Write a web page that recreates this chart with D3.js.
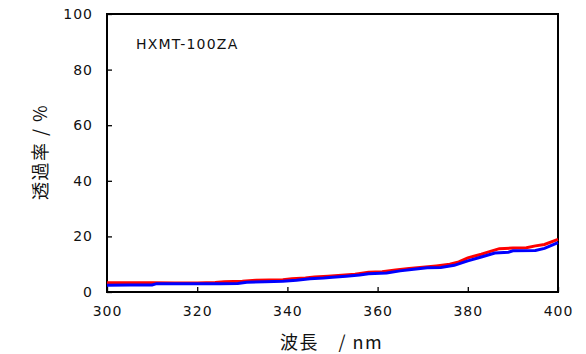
<!DOCTYPE html>
<html><head><meta charset="utf-8">
<script src="https://cdn.jsdelivr.net/npm/d3@7"></script>
<style>
body{margin:0;background:#fff;}
svg{display:block;}
</style></head>
<body>
<svg id="chart" width="586" height="354"></svg>
<script>
const xTicks = [300, 320, 340, 360, 380, 400];
const yTicks = [0, 20, 40, 60, 80, 100];
const redWavelength = [300,305,310,315,320,324,326,330,333,336,339,341,344,346,349,352,355,358,361,364,367,370,373,376,378,380,383,385,387,390,393,395,397,400];
const redValues =     [3.3,3.3,3.3,3.2,3.2,3.4,3.7,3.9,4.2,4.3,4.4,4.8,5.0,5.4,5.7,6.0,6.4,7.1,7.3,7.9,8.5,8.9,9.4,10.0,10.8,12.3,13.6,14.6,15.6,15.8,15.9,16.6,17.1,18.9];
const blueWavelength = [300,305,310,311,315,320,325,329,331,335,339,342,345,348,350,353,356,358,362,365,368,371,374,377,380,383,386,389,390,395,397,400];
const blueValues =     [2.4,2.5,2.5,3.0,3.0,3.0,3.0,3.1,3.5,3.7,3.9,4.2,4.8,5.0,5.3,5.7,6.1,6.6,6.8,7.6,8.2,8.7,8.8,9.6,11.2,12.6,14.0,14.3,14.8,14.9,15.7,17.8];
const sampleLabel = "HXMT-100ZA";
const xTitle = "波長　/ nm";
const yTitle = "透過率 / %";

const svg = d3.select("#chart");
const m = {left:107, top:14, right:28, bottom:62};
const W = 586, H = 354;
const x = d3.scaleLinear().domain([300,400]).range([m.left, W - m.right]);
const y = d3.scaleLinear().domain([0,100]).range([H - m.bottom, m.top]);

const numFont = "DejaVu Sans";
svg.append("rect").attr("x", m.left).attr("y", m.top)
  .attr("width", W - m.left - m.right).attr("height", H - m.top - m.bottom)
  .attr("fill", "none").attr("stroke", "#000").attr("stroke-width", 2);

const xAxis = svg.append("g").attr("transform", `translate(0,${H - m.bottom})`)
  .call(d3.axisBottom(x).tickValues(xTicks).tickSizeInner(-5).tickSizeOuter(0).tickPadding(14));
const yAxis = svg.append("g").attr("transform", `translate(${m.left},0)`)
  .call(d3.axisLeft(y).tickValues(yTicks).tickSizeInner(-5).tickSizeOuter(0).tickPadding(14));
[xAxis, yAxis].forEach(a => {
  a.select(".domain").remove();
  a.selectAll(".tick line").attr("stroke", "#000").attr("stroke-width", 1.3);
  a.selectAll(".tick text").attr("font-family", numFont).attr("font-size", 14)
    .attr("letter-spacing", 1).attr("fill", "#111");
});

const line = d3.line().x(d => x(d[0])).y(d => y(d[1]));
svg.append("path").datum(redWavelength.map((w,i)=>[w, redValues[i]]))
  .attr("d", line).attr("fill","none").attr("stroke","#ff0000").attr("stroke-width",3);
svg.append("path").datum(blueWavelength.map((w,i)=>[w, blueValues[i]]))
  .attr("d", line).attr("fill","none").attr("stroke","#0000ff").attr("stroke-width",3);

svg.append("text").attr("x", 136).attr("y", 49).text(sampleLabel)
  .attr("font-family", numFont).attr("font-size", 14).attr("letter-spacing", 1.2).attr("fill", "#111");

svg.append("text").attr("x", 280).attr("y", 349)
  .attr("font-family", "Noto Sans CJK JP").attr("font-size", 18).attr("letter-spacing", 1.5)
  .attr("fill", "#111").text(xTitle);
svg.append("text").attr("transform", "translate(47,152) rotate(-90)").attr("text-anchor","middle")
  .attr("font-family", "Noto Sans CJK JP").attr("font-size", 18).attr("letter-spacing", 1.5)
  .attr("fill", "#111").text(yTitle);
</script>
</body></html>
